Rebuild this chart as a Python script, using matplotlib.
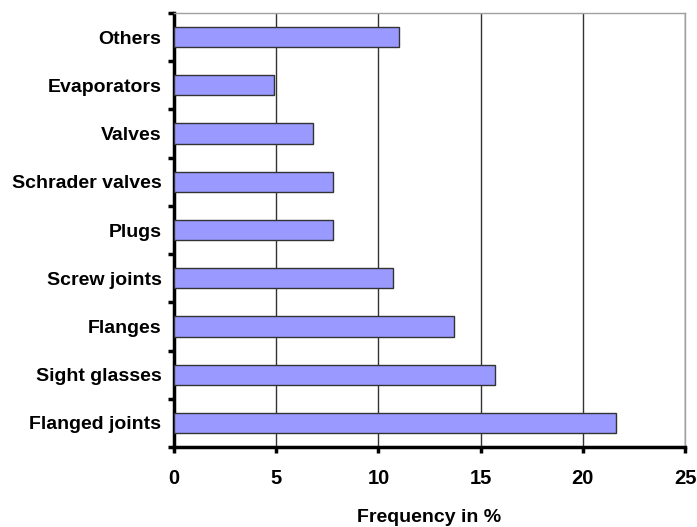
import numpy as np
from matplotlib import pyplot as plt

plt.rcParams['font.family'] = ['Liberation Sans', 'DejaVu Sans']

categories = ["Flanged joints", "Sight glasses", "Flanges", "Screw joints", "Plugs",
              "Schrader valves", "Valves", "Evaporators", "Others"]
values = [21.6, 15.7, 13.7, 10.7, 7.8, 7.8, 6.8, 4.9, 11.0]
xticks = [0, 5, 10, 15, 20, 25]

fig = plt.figure(figsize=(6.97, 5.27), dpi=100)
ax = fig.add_axes([0.2496, 0.1518, 0.7332, 0.8235])

y = np.arange(len(categories))
ax.barh(y, values, height=0.42, color="#9999ff", edgecolor="#333333", linewidth=1.0, zorder=3)

ax.set_xlim(0, 25)
ax.set_ylim(-0.5, len(categories) - 0.5)
ax.set_xticks(xticks)
ax.set_xticklabels([str(t) for t in xticks], fontsize=14.5, fontweight="bold")
ax.set_yticks(y)
ax.set_yticklabels(categories, fontsize=14, fontweight="bold")
ax.tick_params(axis="y", length=0, pad=9)
ax.tick_params(axis="x", length=4, width=2.5, direction="out", pad=12)

# y ticks between categories
ax.set_yticks(np.arange(-0.5, len(categories)), minor=True)
ax.tick_params(axis="y", which="minor", length=4, width=2.5, direction="out")

ax.grid(axis="x", color="#333333", linewidth=1.0, zorder=0)
for s in ["left", "bottom"]:
    ax.spines[s].set_linewidth(2.5)
    ax.spines[s].set_color("black")
for s in ["top", "right"]:
    ax.spines[s].set_linewidth(1.0)
    ax.spines[s].set_color("#a0a0a0")

ax.set_xlabel("Frequency in %", fontsize=14, fontweight="bold", labelpad=15)

plt.savefig("out.png", dpi=100)
